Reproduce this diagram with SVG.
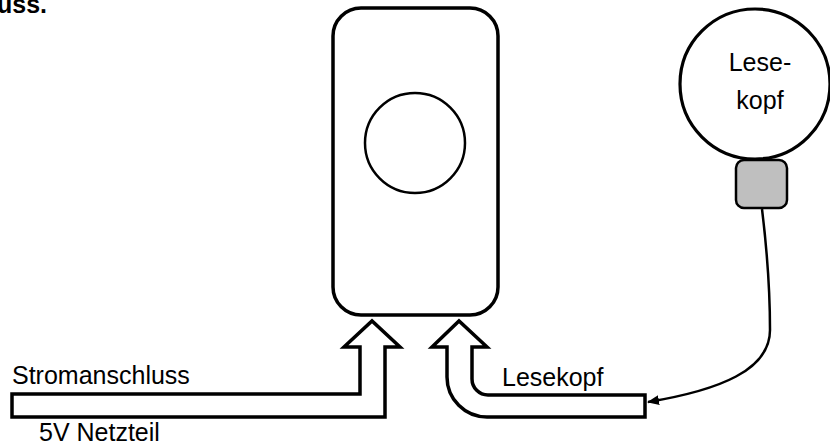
<svg xmlns="http://www.w3.org/2000/svg" width="830" height="445" viewBox="0 0 830 445">
<style>
text{font-family:"Liberation Sans",Arial,sans-serif;font-size:25px;fill:#000}
.thick{fill:#fff;stroke:#000;stroke-width:3.5;stroke-linejoin:miter}
</style>
<defs>
<marker id="ah" viewBox="0 0 12 10" refX="11" refY="5" markerWidth="12" markerHeight="10" markerUnits="userSpaceOnUse" orient="auto">
<path d="M0,0 L12,5 L0,10 Z" fill="#000"/>
</marker>
</defs>
<rect width="830" height="445" fill="#fff"/>
<text x="-3" y="13" font-weight="bold">uss.</text>
<g id="device">
<rect x="333" y="8" width="165" height="307" rx="28" fill="#fff" stroke="#000" stroke-width="3.5"/>
<circle cx="415" cy="143" r="50" fill="#fff" stroke="#000" stroke-width="2.5"/>
</g>
<g id="lesekopf-head">
<circle cx="755" cy="84" r="75" fill="#fff" stroke="#000" stroke-width="3.2"/>
<text x="760" y="71" text-anchor="middle" font-size="24">Lese-</text>
<text x="760" y="109" text-anchor="middle" font-size="24">kopf</text>
<rect x="736" y="160" width="51" height="48" rx="8" fill="#bfbfbf" stroke="#000" stroke-width="2.5"/>
</g>
<g id="connectors">
<path class="thick" d="M12,394 L360,394 L360,347 L344,347 L372,321 L400,347 L385,347 L385,417 L12,417 Z"/>
<path class="thick" d="M645,395 L488,395 A16,16 0 0 1 472,379 L472,347 L487,347 L459,321 L432,347 L447,347 L447,377 A40,40 0 0 0 487,417 L645,417 Z"/>
<path d="M762,209 C767,250 770,290 770,330 C770,370 720,390 648,402" fill="none" stroke="#000" stroke-width="2.5" marker-end="url(#ah)"/>
</g>
<text x="12" y="384">Stromanschluss</text>
<text x="39" y="441">5V Netzteil</text>
<text x="502" y="386">Lesekopf</text>
</svg>
